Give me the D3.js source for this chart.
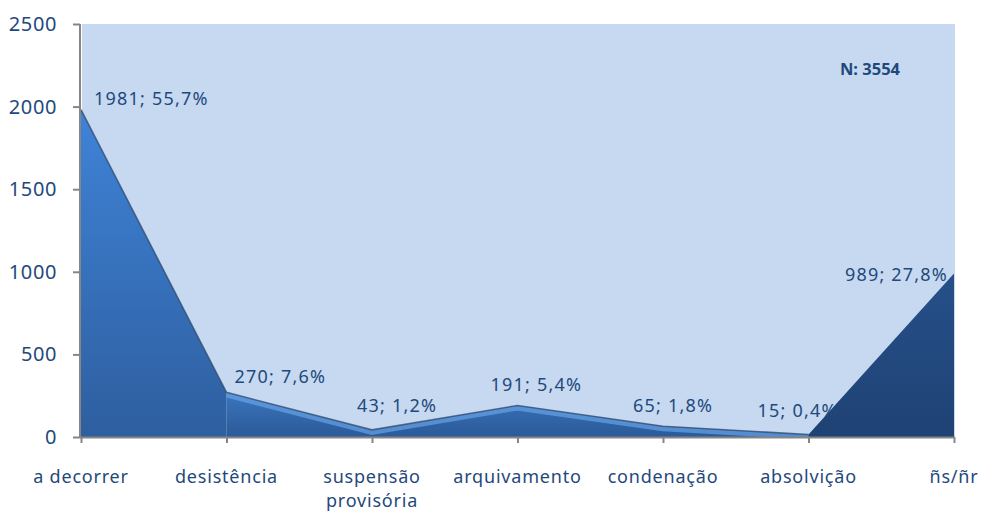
<!DOCTYPE html>
<html>
<head>
<meta charset="utf-8">
<script src="https://cdn.jsdelivr.net/npm/d3@7"></script>
<style>
  body { margin: 0; background: #fff; }
  text { font-family: "Noto Sans", sans-serif; fill: #1f497d; }
</style>
</head>
<body>
<div id="chart"></div>
<script>
// chart data
const categories = ['a decorrer', 'desistência', 'suspensão provisória', 'arquivamento', 'condenação', 'absolvição', 'ñs/ñr'];
const counts = [1981, 270, 43, 191, 65, 15, 989];
const percents = [55.7, 7.6, 1.2, 5.4, 1.8, 0.4, 27.8];
const yTicks = [0, 500, 1000, 1500, 2000, 2500];
const total = 3554;

// where each data label sits relative to its point: [dx, dy, anchor]
const labelPos = [
  [13, -10, 'start'], [8, -14, 'start'], [-15, -23, 'start'], [-27, -19, 'start'],
  [-30, -19, 'start'], [-51, -22, 'start'], [-6, 3, 'end']
];

const width = 984, height = 512;
const data = categories.map((c, i) => ({ cat: c, v: counts[i], p: percents[i] }));

const svg = d3.select('#chart').append('svg')
    .attr('width', width)
    .attr('height', height);

const x = d3.scalePoint().domain(categories).range([81, 954]);
const y = d3.scaleLinear().domain([0, 2500]).range([437, 24]);

const defs = svg.append('defs');
const g1 = defs.append('linearGradient').attr('id', 'gFirst')
    .attr('gradientUnits', 'userSpaceOnUse').attr('x1', 0).attr('y1', y(2000)).attr('x2', 0).attr('y2', y(0));
g1.append('stop').attr('offset', 0).attr('stop-color', '#3f83d8');
g1.append('stop').attr('offset', 1).attr('stop-color', '#2e5f9f');
const g2 = defs.append('linearGradient').attr('id', 'gMid')
    .attr('gradientUnits', 'userSpaceOnUse').attr('x1', 0).attr('y1', y(300)).attr('x2', 0).attr('y2', y(0));
g2.append('stop').attr('offset', 0).attr('stop-color', '#3d78c2');
g2.append('stop').attr('offset', 1).attr('stop-color', '#2b5a98');
const g3 = defs.append('linearGradient').attr('id', 'gLast')
    .attr('gradientUnits', 'userSpaceOnUse').attr('x1', 0).attr('y1', y(1000)).attr('x2', 0).attr('y2', y(0));
g3.append('stop').attr('offset', 0).attr('stop-color', '#26508a');
g3.append('stop').attr('offset', 1).attr('stop-color', '#1f4274');

// plot background
svg.append('rect')
    .attr('x', 82).attr('y', y(2500))
    .attr('width', 955 - 82).attr('height', y(0) - y(2500))
    .attr('fill', '#c6d9f0');

const area = d3.area()
    .x(d => x(d.cat))
    .y0(y(0))
    .y1(d => y(d.v));
const line = d3.line()
    .x(d => x(d.cat))
    .y(d => y(d.v));

const midData = data.slice(1, 6);
defs.append('clipPath').attr('id', 'clipMid')
  .append('path').attr('d', area(midData));

// first segment
svg.append('path').attr('d', area(data.slice(0, 2))).attr('fill', 'url(#gFirst)');

// middle segments with a light ridge along the top
svg.append('path').attr('d', area(midData)).attr('fill', 'url(#gMid)');
svg.append('path').attr('d', line(midData))
    .attr('clip-path', 'url(#clipMid)')
    .attr('fill', 'none')
    .attr('stroke', '#6aa7ec')
    .attr('stroke-width', 10)
    .attr('stroke-opacity', 0.65);

// last segment
svg.append('path').attr('d', area(data.slice(5, 7))).attr('fill', 'url(#gLast)');

// top edge shadow
svg.append('path').attr('d', line(data.slice(0, 6)))
    .attr('fill', 'none')
    .attr('stroke', '#2f4a6e')
    .attr('stroke-width', 1.6)
    .attr('stroke-opacity', 0.75);

// axes
const axisColor = '#868686';
const yAxis = svg.append('g')
    .attr('transform', 'translate(80,0)')
    .call(d3.axisLeft(y).tickValues(yTicks).tickFormat(d3.format('d')).tickSize(7).tickPadding(16));
const xAxis = svg.append('g')
    .attr('transform', `translate(0,${y(0)})`)
    .call(d3.axisBottom(x).tickSize(6).tickFormat(''));
[yAxis, xAxis].forEach(a => {
  a.select('.domain').attr('stroke', axisColor).attr('stroke-width', 2);
  a.selectAll('.tick line').attr('stroke', axisColor).attr('stroke-width', 2);
});
xAxis.select('.domain').attr('d', `M80,0.5H955`);
yAxis.select('.domain').attr('d', `M0,${y(2500)}V${y(0) + 1}`);
yAxis.selectAll('.tick text')
    .attr('font-size', 20)
    .attr('letter-spacing', 0.6)
    .attr('font-family', '"Noto Sans", sans-serif')
    .style('fill', '#1f497d');

// category labels
svg.append('g').selectAll('text')
    .data(categories)
    .join('text')
    .attr('x', d => x(d))
    .attr('y', 483)
    .attr('text-anchor', 'middle')
    .attr('font-size', 18)
    .attr('letter-spacing', 0.8)
    .each(function (d) {
      const words = d === 'suspensão provisória' ? ['suspensão', 'provisória'] : [d];
      d3.select(this).selectAll('tspan')
        .data(words)
        .join('tspan')
        .attr('x', x(d))
        .attr('dy', (w, i) => i === 0 ? 0 : 24)
        .text(w => w);
    });

// data labels
svg.append('g').selectAll('text')
    .data(data)
    .join('text')
    .attr('x', (d, i) => x(d.cat) + labelPos[i][0])
    .attr('y', (d, i) => y(d.v) + labelPos[i][1])
    .attr('text-anchor', (d, i) => labelPos[i][2])
    .attr('dominant-baseline', 'middle')
    .attr('font-size', 18)
    .attr('letter-spacing', 1.2)
    .text(d => `${d.v}; ${d.p.toFixed(1).replace('.', ',')}%`);

// sample size note
svg.append('text')
    .attr('x', 870).attr('y', 70)
    .attr('text-anchor', 'middle')
    .attr('dominant-baseline', 'middle')
    .attr('font-size', 16.5)
    .attr('font-weight', 'bold')
    .text(`N: ${total}`);
</script>
</body>
</html>
